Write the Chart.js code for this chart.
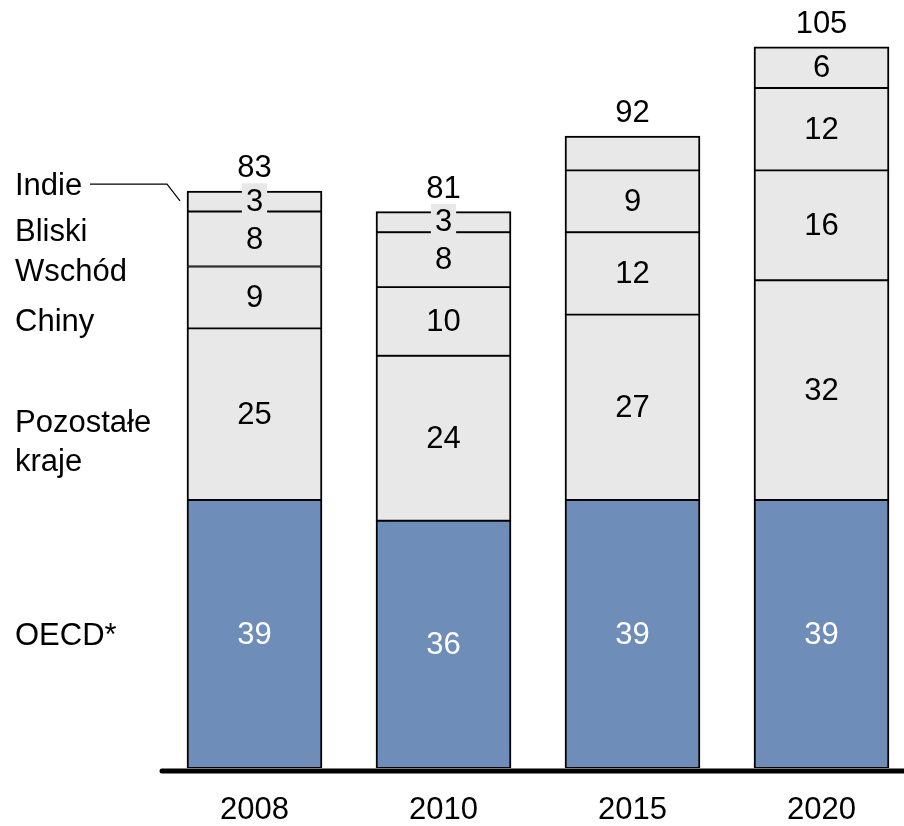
<!DOCTYPE html>
<html>
<head>
<meta charset="utf-8">
<script src="https://cdn.jsdelivr.net/npm/chart.js@4.4.1/dist/chart.umd.min.js"></script>
<style>
  html, body { margin: 0; padding: 0; background: #fff; overflow: hidden; }
</style>
</head>
<body>
<canvas id="chart" width="916" height="826"></canvas>
<script>
const years = ["2008", "2010", "2015", "2020"];
const oecd = [39, 36, 39, 39];
const pozostale = [25, 24, 27, 32];
const chiny = [9, 10, 12, 16];
const bliskiWschod = [8, 8, 9, 12];
const indie = [3, 3, 5, 6];
const totals = [83, 81, 92, 105];

// left-hand legend: text and the y value it sits at
const regionNames = [
  { text: "Indie", y: 84.7 },
  { text: "Bliski", y: 77.9 },
  { text: "Wschód", y: 72.2 },
  { text: "Chiny", y: 64.9 },
  { text: "Pozostałe", y: 50.2 },
  { text: "kraje", y: 44.5 },
  { text: "OECD*", y: 19.1 }
];

const FAMILY = '"Liberation Sans", Arial, sans-serif';
const FONT = '31px ' + FAMILY;
const BLUE = "#6E8DB9";
const GREY = "#E8E8E8";

const labelsPlugin = {
  id: "labels",
  afterDatasetsDraw(chart) {
    const ctx = chart.ctx;
    const yScale = chart.scales.y;
    ctx.save();
    ctx.font = FONT;
    ctx.textAlign = "center";
    ctx.textBaseline = "middle";

    chart.data.datasets.forEach((ds, di) => {
      const meta = chart.getDatasetMeta(di);
      meta.data.forEach((bar, i) => {
        if (ds.hideLabel && ds.hideLabel[i]) return;
        const val = ds.data[i];
        const cy = (bar.y + bar.base) / 2 + 1;
        const h = bar.base - bar.y;
        if (h < 30) {
          // small segment: blank a patch behind the number
          const w = ctx.measureText(String(val)).width + 8;
          ctx.fillStyle = GREY;
          ctx.fillRect(bar.x - w / 2, cy - 19, w, 35);
        }
        ctx.fillStyle = di === 0 ? "#fff" : "#000";
        ctx.fillText(String(val), bar.x, cy);
      });
    });

    // totals above each column
    const topMeta = chart.getDatasetMeta(chart.data.datasets.length - 1);
    ctx.fillStyle = "#000";
    ctx.textBaseline = "alphabetic";
    topMeta.data.forEach((bar, i) => {
      ctx.fillText(String(totals[i]), bar.x, bar.y - 14);
    });

    // region names on the left
    ctx.textAlign = "left";
    ctx.textBaseline = "middle";
    regionNames.forEach(r => {
      ctx.fillText(r.text, 15, yScale.getPixelForValue(r.y));
    });

    // leader line from "Indie" to the first column
    const first = topMeta.data[0];
    const ly = yScale.getPixelForValue(84.7) - 2;
    ctx.strokeStyle = "#000";
    ctx.lineWidth = 1.2;
    ctx.beginPath();
    ctx.moveTo(90, ly);
    ctx.lineTo(167, ly);
    ctx.lineTo(first.x - first.width / 2 - 7, first.y + 10);
    ctx.stroke();

    // heavy base line
    const area = chart.chartArea;
    ctx.lineWidth = 5;
    ctx.lineCap = "round";
    ctx.beginPath();
    ctx.moveTo(area.left + 2, area.bottom + 3);
    ctx.lineTo(chart.width, area.bottom + 3);
    ctx.stroke();
    ctx.restore();
  }
};

function series(data, color, topWidth) {
  return {
    data: data,
    backgroundColor: color,
    borderColor: "#000",
    borderWidth: { left: 2, right: 2, top: topWidth || 1.3, bottom: 1.3 },
    borderSkipped: false,
    barThickness: 135
  };
}

const indieSet = series(indie, GREY, 2);
indieSet.hideLabel = [false, false, true, false];

new Chart(document.getElementById("chart"), {
  type: "bar",
  data: {
    labels: years,
    datasets: [
      series(oecd, BLUE),
      series(pozostale, GREY),
      series(chiny, GREY),
      series(bliskiWschod, GREY),
      indieSet
    ]
  },
  options: {
    responsive: false,
    animation: false,
    layout: { padding: { left: 160, right: 0, top: 0, bottom: 0 } },
    plugins: { legend: { display: false }, tooltip: { enabled: false } },
    scales: {
      x: {
        stacked: true,
        grid: { display: false },
        border: { display: false },
        ticks: {
          color: "#000",
          font: { family: FAMILY, size: 31 },
          padding: 16
        },
        afterFit(scale) { scale.height = 58; }
      },
      y: {
        stacked: true,
        display: false,
        min: 0,
        max: 111.8
      }
    }
  },
  plugins: [labelsPlugin]
});
</script>
</body>
</html>
